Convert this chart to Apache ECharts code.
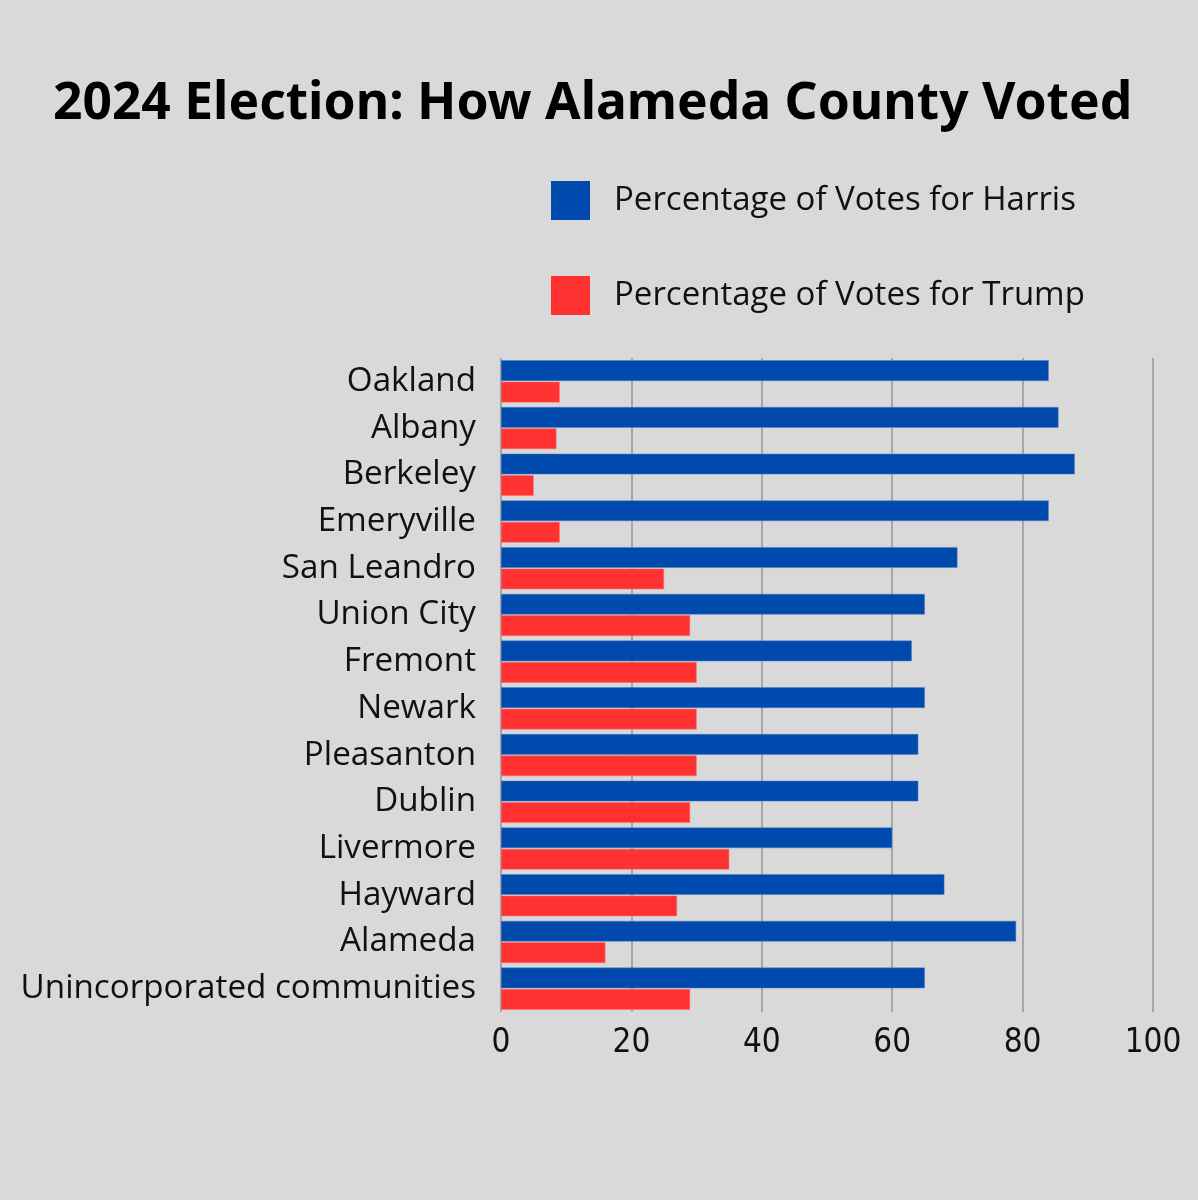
<!DOCTYPE html>
<html>
<head>
<meta charset="utf-8">
<script src="https://cdn.jsdelivr.net/npm/echarts@6/dist/echarts.min.js"></script>
<style>
  html, body { margin: 0; padding: 0; background: #d9d9d9; }
  #chart { width: 1198px; height: 1200px; }
</style>
</head>
<body>
<div id="chart"></div>
<script>
// 城市
var cities = ['Oakland', 'Albany', 'Berkeley', 'Emeryville', 'San Leandro', 'Union City',
  'Fremont', 'Newark', 'Pleasanton', 'Dublin', 'Livermore', 'Hayward', 'Alameda',
  'Unincorporated communities'];
var harris = [84, 85.5, 88, 84, 70, 65, 63, 65, 64, 64, 60, 68, 79, 65];
var trump = [9, 8.5, 5, 9, 25, 29, 30, 30, 30, 29, 35, 27, 16, 29];
var xTicks = [0, 20, 40, 60, 80, 100];

var chart = echarts.init(document.getElementById('chart'));
var option = {
    backgroundColor: '#d9d9d9',
    title: {
        text: '2024 Election: How Alameda County Voted',
        left: 48,
        top: 73,
        textStyle: {
            fontFamily: 'Noto Sans',
            fontWeight: 'bold',
            fontSize: 51.5,
            color: '#000'
        }
    },
    legend: {
        orient: 'vertical',
        left: 546,
        top: 176,
        itemWidth: 39,
        itemHeight: 39,
        itemGap: 56,
        icon: 'rect',
        itemStyle: { borderWidth: 0 },
        textStyle: {
            fontFamily: 'Open Sans',
            fontSize: 33,
            color: '#111',
            padding: [0, 0, 0, 19]
        },
        data: ['Percentage of Votes for Harris', 'Percentage of Votes for Trump']
    },
    grid: {
        left: 501,
        right: 45,
        top: 358,
        bottom: 188
    },
    xAxis: {
        type: 'value',
        min: 0,
        max: 100,
        interval: 20,
        axisLine: { show: false },
        axisTick: { show: false },
        splitLine: { lineStyle: { color: '#a6a6a6', width: 2 } },
        axisLabel: {
            margin: 15,
            fontFamily: 'DejaVu Sans Condensed',
            fontSize: 33,
            color: '#111',
            formatter: function (v) { return xTicks.indexOf(v) >= 0 ? String(v) : ''; }
        }
    },
    yAxis: {
        type: 'category',
        inverse: true,
        data: cities,
        axisLine: { show: false },
        axisTick: { show: false },
        axisLabel: {
            margin: 25,
            fontFamily: 'Open Sans',
            fontSize: 33.2,
            color: '#111',
            padding: [0, 0, 6, 0]
        }
    },
    series: [
        {
            name: 'Percentage of Votes for Harris',
            type: 'bar',
            data: harris,
            barGap: '4%',
            barCategoryGap: '10%',
            itemStyle: { color: '#004aad', borderColor: '#4d7fc4', borderWidth: 0.5 }
        },
        {
            name: 'Percentage of Votes for Trump',
            type: 'bar',
            data: trump,
            itemStyle: { color: '#ff3131', borderColor: '#ff7070', borderWidth: 0.5 }
        }
    ]
};
chart.setOption(option);
window.onresize = chart.resize;
</script>
</body>
</html>
